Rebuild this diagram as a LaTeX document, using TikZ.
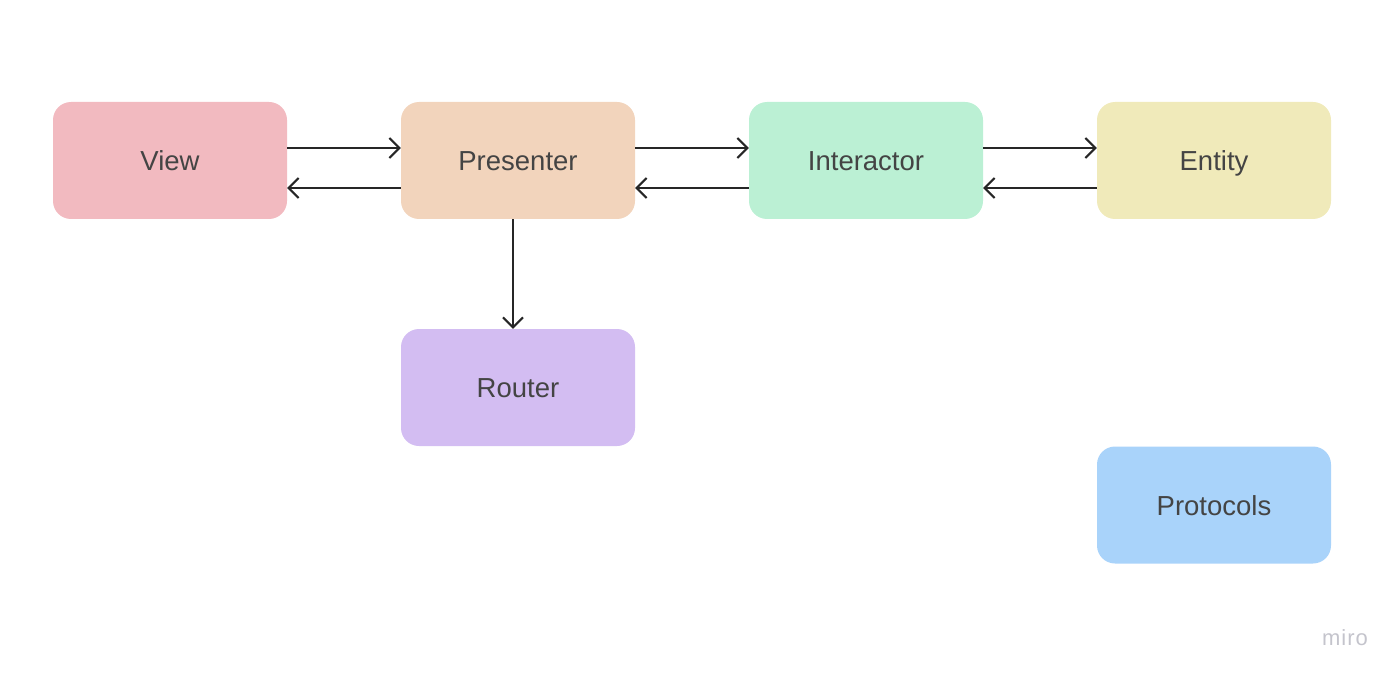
\documentclass[tikz,border=0pt]{standalone}
\usepackage{fontspec}
\setmainfont{Liberation Sans}
\usetikzlibrary{arrows.meta}
\definecolor{cview}{HTML}{F2BAC0}
\definecolor{cpres}{HTML}{F2D4BC}
\definecolor{cinter}{HTML}{BBF0D4}
\definecolor{centity}{HTML}{F0EABA}
\definecolor{crouter}{HTML}{D3BDF2}
\definecolor{cproto}{HTML}{A9D3FA}
\definecolor{ctext}{HTML}{444444}
\definecolor{clogo}{HTML}{C4C4CC}
\tikzset{
  block/.style={rounded corners=18pt, minimum width=234pt, minimum height=117pt, inner sep=0pt, text=ctext, font=\fontsize{27.5}{32}\selectfont, text height=20pt, text depth=0pt},
  conn/.style={line width=2pt, draw=black!85, -{Straight Barb[length=10pt,width=20pt,line width=2pt]}}
}
\begin{document}
\begin{tikzpicture}[x=1pt,y=-1pt]
\useasboundingbox (0,0) rectangle (1400,679);
\node[block, fill=cview] (view) at (170,160.5) {View};
\node[block, fill=cpres] (pres) at (518,160.5) {Presenter};
\node[block, fill=cinter] (inter) at (866,160.5) {Interactor};
\node[block, fill=centity] (entity) at (1214,160.5) {Entity};
\node[block, fill=crouter] (router) at (518,387.5) {Router};
\node[block, fill=cproto] (proto) at (1214,505) {Protocols};
\draw[conn] (view.east |- 0,148) -- (pres.west |- 0,148);
\draw[conn] (pres.west |- 0,188) -- (view.east |- 0,188);
\draw[conn] (pres.east |- 0,148) -- (inter.west |- 0,148);
\draw[conn] (inter.west |- 0,188) -- (pres.east |- 0,188);
\draw[conn] (inter.east |- 0,148) -- (entity.west |- 0,148);
\draw[conn] (entity.west |- 0,188) -- (inter.east |- 0,188);
\draw[conn] (pres.south -| 513,0) -- (router.north -| 513,0);
\node[text=clogo, font=\fontsize{22}{26}\selectfont, anchor=center] (logo) at (1345,638) {m\kern1pt i\kern1pt r\kern1pt o};
\end{tikzpicture}
\end{document}
